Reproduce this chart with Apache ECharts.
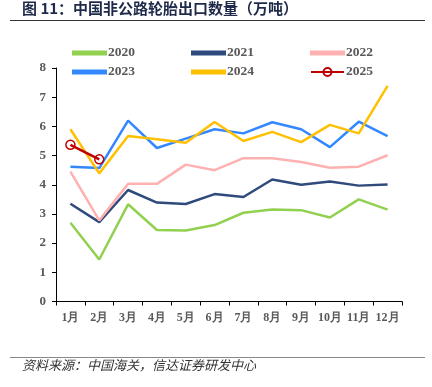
<!DOCTYPE html>
<html><head><meta charset="utf-8">
<script src="https://cdn.jsdelivr.net/npm/echarts@6/dist/echarts.min.js"></script>
<style>html,body{margin:0;padding:0;background:#fff}#c{width:432px;height:387px}</style>
</head><body><div id="c"></div>
<script>
var categories = ['1月','2月','3月','4月','5月','6月','7月','8月','9月','10月','11月','12月'];
var s2020 = [2.70,1.44,3.33,2.45,2.43,2.62,3.04,3.15,3.13,2.88,3.50,3.15];
var s2021 = [3.35,2.72,3.82,3.39,3.34,3.68,3.58,4.18,4.00,4.11,3.97,4.01];
var s2022 = [4.45,2.78,4.03,4.03,4.69,4.50,4.91,4.91,4.78,4.58,4.62,5.01];
var s2023 = [4.62,4.57,6.20,5.26,5.58,5.90,5.76,6.14,5.90,5.29,6.16,5.67];
var s2024 = [5.90,4.39,5.67,5.56,5.44,6.15,5.50,5.81,5.46,6.05,5.76,7.39];
var s2025 = [5.37,4.87];
var yTicks = [0,1,2,3,4,5,6,7,8];
var seriesNames = ['2020','2021','2022','2023','2024','2025'];

var chart = echarts.init(document.getElementById('c'));
var serif = '"Liberation Serif","Times New Roman",serif';
function line(name, data, color, marker) {
  return {
    name: name, type: 'line', data: data,
    symbol: marker ? 'circle' : 'none', symbolSize: 9,
    showSymbol: !!marker,
    itemStyle: {color: marker ? 'rgba(255,255,255,0)' : color, borderColor: color, borderWidth: 1.5},
    lineStyle: {color: color, width: 2.5},
    color: color,
    z: marker ? 10 : 2,
    animation: false
  };
}
var legendPos = [[72,53],[191,53],[310,53],[72,72],[191,72],[310,72]];
var legends = seriesNames.map(function(n, i){
  var isM = n === '2025';
  return {
    left: legendPos[i][0], top: legendPos[i][1] - 8, padding: 0,
    itemWidth: 33, itemHeight: isM ? 10 : 3, itemGap: 0,
    icon: isM ? undefined : 'rect',
    textStyle: {fontFamily: serif, fontWeight: 'bold', fontSize: 13.5, color: '#595959', padding: [0,0,0,-3], lineHeight: 16},
    data: [n], selectedMode: false
  };
});
chart.setOption({
  animation: false,
  grid: {left: 56, right: 30, top: 68, bottom: 85.5},
  legend: legends,
  xAxis: {
    type: 'category', data: categories, boundaryGap: true,
    axisLine: {lineStyle: {color: '#000', width: 1}},
    axisTick: {show: true, alignWithLabel: false, length: 4, lineStyle: {color: '#000'}},
    axisLabel: {fontFamily: serif, fontWeight: 'bold', fontSize: 12, color: '#595959', margin: 10, interval: 0}
  },
  yAxis: {
    type: 'value', min: 0, max: 8, interval: 1,
    axisLine: {show: true, lineStyle: {color: '#000', width: 1}},
    axisTick: {show: true, length: 4, lineStyle: {color: '#000'}},
    splitLine: {show: false},
    axisLabel: {fontFamily: serif, fontWeight: 'bold', fontSize: 13, color: '#595959', margin: 10,
      formatter: function(v){ return yTicks.indexOf(v) >= 0 ? String(v) : ''; }}
  },
  series: [
    line('2020', s2020, '#92D050'),
    line('2021', s2021, '#2F4A7C'),
    line('2022', s2022, '#FFB1B1'),
    line('2023', s2023, '#3388FF'),
    line('2024', s2024, '#FFC000'),
    line('2025', s2025, '#C00000', true)
  ],
  graphic: [
    {type:'text', left: 22, top: 1, style:{text:'图 11：中国非公路轮胎出口数量（万吨）', font:'bold 15px "Noto Sans CJK SC", sans-serif', fill:'#1F2A4A'}},
    {type:'line', shape:{x1:10,y1:20.5,x2:425,y2:20.5}, style:{stroke:'#333',lineWidth:1.2}},
    {type:'line', shape:{x1:10,y1:357.5,x2:425,y2:357.5}, style:{stroke:'#888',lineWidth:1.2}},
    {type:'text', left: 22, top: 359, style:{text:'资料来源：中国海关，信达证券研发中心', font:'italic 13px "Noto Sans CJK SC", sans-serif', fill:'#333'}}
  ]
});
</script></body></html>
